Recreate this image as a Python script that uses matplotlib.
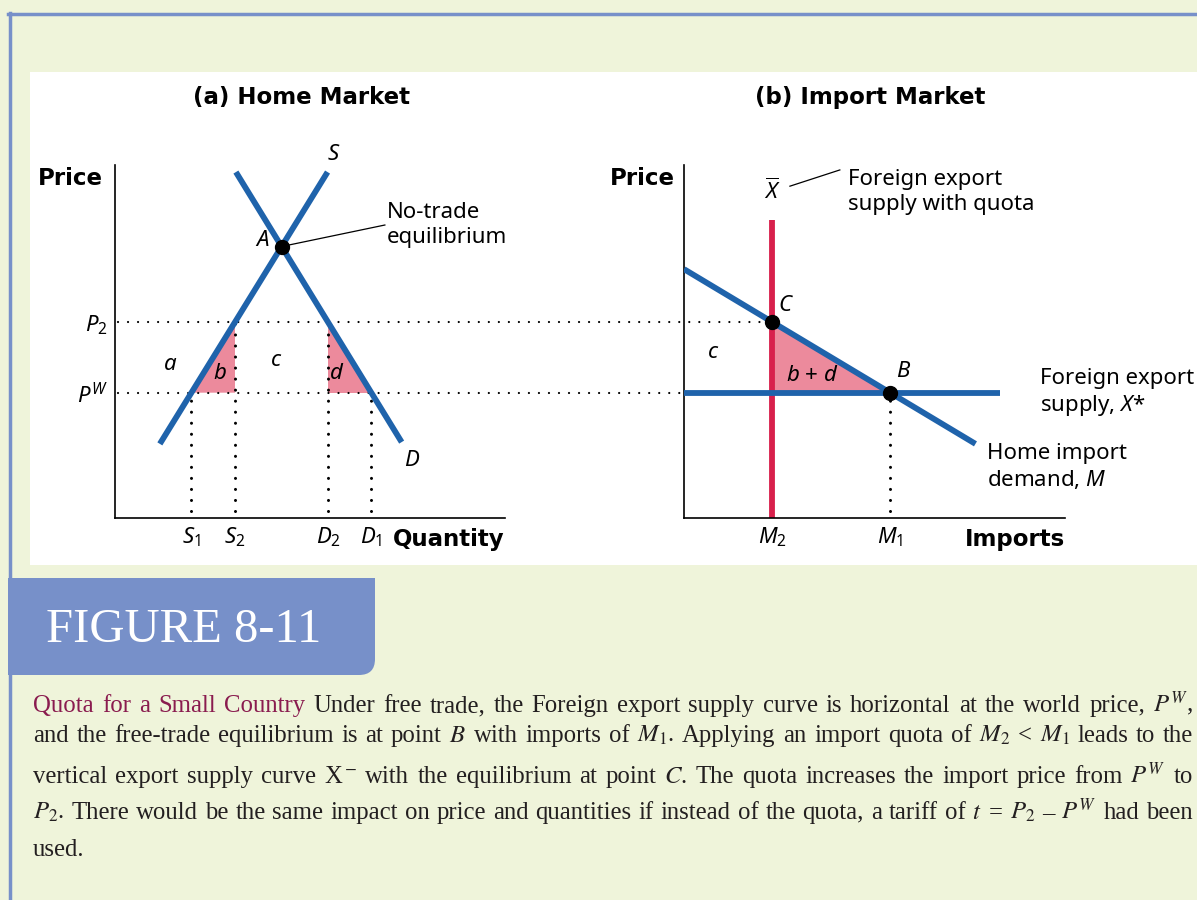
import numpy as np
import matplotlib
matplotlib.use('Agg')
import matplotlib.pyplot as plt
from matplotlib.patches import Rectangle, FancyBboxPatch

plt.rcParams['font.family'] = ['Noto Sans', 'DejaVu Sans']
plt.rcParams['mathtext.fontset'] = 'custom'
plt.rcParams['mathtext.rm'] = 'Noto Sans'
plt.rcParams['mathtext.it'] = 'Noto Sans:italic'
plt.rcParams['mathtext.bf'] = 'Noto Sans:bold'

# --- data (abstract price / quantity units) ---
supply_q = [1.15, 5.45]      # home supply S
supply_p = [2.1, 9.8]
demand_q = [3.1, 7.35]       # home demand D
demand_p = [9.8, 2.15]
p_world = 3.55               # P^W
p_quota = 5.55               # P_2
import_q = [0.0, 7.65]       # home import demand M
import_p = [7.05, 2.1]
export_supply_end = 8.3      # length of X* line
quota_top = 8.45             # top of X-bar line

caption_lines = [
    "Quota for a Small Country Under free trade, the Foreign export supply curve is horizontal at the world price, $P^W$,",
    "and the free-trade equilibrium is at point $B$ with imports of $M_1$. Applying an import quota of $M_2$ < $M_1$ leads to the",
    "vertical export supply curve X$^-$ with the equilibrium at point $C$. The quota increases the import price from $P^W$ to",
    "$P_2$. There would be the same impact on price and quantities if instead of the quota, a tariff of $t$ = $P_2$ – $P^W$ had been",
    "used.",
]
caption_y = [712, 742, 783, 819, 856]

# derived points
s1 = np.interp(p_world, supply_p, supply_q)
s2 = np.interp(p_quota, supply_p, supply_q)
d1 = np.interp(p_world, demand_p[::-1], demand_q[::-1])
d2 = np.interp(p_quota, demand_p[::-1], demand_q[::-1])
m1 = np.interp(p_world, import_p[::-1], import_q[::-1])
m2 = np.interp(p_quota, import_p[::-1], import_q[::-1])
cs = np.polyfit(supply_q, supply_p, 1)
cd = np.polyfit(demand_q, demand_p, 1)
a_q = (cd[1] - cs[1]) / (cs[0] - cd[0])
a_p = np.polyval(cs, a_q)

BLUE = '#1f63ab'
PINK = '#ec8a9c'
RED = '#d8204c'
BG = '#eff4da'
FRAME = '#7790c9'
MAROON = '#8a1c4f'
FS = 16
BOLD = dict(fontsize=16.5, family='DejaVu Sans', weight='bold')
DOT_H = (0, (0.01, 4.5))
DOT_V = (0, (0.01, 3.6))

W, H = 1197, 900
fig = plt.figure(figsize=(W / 100, H / 100), dpi=100, facecolor=BG)

# background layer in pixel coordinates
bg = fig.add_axes([0, 0, 1, 1], zorder=-1)
bg.set_xlim(0, W)
bg.set_ylim(H, 0)
bg.axis('off')
bg.add_patch(Rectangle((30, 72), W - 30, 493, facecolor='white', edgecolor='none'))
bg.plot([8, W], [14, 14], color=FRAME, lw=2.5)
bg.plot([9.5, 9.5], [13, H], color=FRAME, lw=2.5)
bg.add_patch(FancyBboxPatch((8, 578), 367, 97, boxstyle='round,pad=0,rounding_size=16',
                            facecolor=FRAME, edgecolor='none'))
bg.add_patch(Rectangle((8, 578), 367, 50, facecolor=FRAME, edgecolor='none'))
bg.add_patch(Rectangle((8, 578), 60, 97, facecolor=FRAME, edgecolor='none'))
bg.text(46, 630, 'FIGURE 8-11', color='white', fontsize=35, family='Liberation Serif',
        va='center', ha='left')

# panel (a) home market
ax1 = fig.add_axes([115 / W, 1 - 518 / H, 390 / W, 353 / H], facecolor='none')
# panel (b) import market
ax2 = fig.add_axes([684 / W, 1 - 518 / H, 381 / W, 353 / H], facecolor='none')
for ax in (ax1, ax2):
    ax.set_xlim(0, 10)
    ax.set_ylim(0, 10)
    ax.spines[['top', 'right']].set_visible(False)
    ax.spines[['left', 'bottom']].set_linewidth(1.2)
    ax.tick_params(length=0, labelsize=FS, pad=5)

ax1.set_xticks([s1, s2, d2, d1], ['$S_1$', '$S_2$', '$D_2$', '$D_1$'])
ax1.set_yticks([p_world, p_quota], ['$P^W$', '$P_2$'])
ax2.set_xticks([m2, m1], ['$M_2$', '$M_1$'])
ax2.set_yticks([])

ax1.fill([s1, s2, s2], [p_world, p_quota, p_world], color=PINK, lw=0, zorder=1)
ax1.fill([d2, d2, d1], [p_quota, p_world, p_world], color=PINK, lw=0, zorder=1)
ax1.plot(supply_q, supply_p, color=BLUE, lw=4.2, solid_capstyle='butt', zorder=3)
ax1.plot(demand_q, demand_p, color=BLUE, lw=4.2, solid_capstyle='butt', zorder=3)

# dotted guides running across into panel (b)
to_ax1 = ax1.transData.inverted()
x_c = to_ax1.transform(ax2.transData.transform((m2, p_quota)))[0]
x_b0 = to_ax1.transform(ax2.transData.transform((0, p_world)))[0]
ax1.plot([0.08, x_c], [p_quota, p_quota], color='black', lw=1.6, ls=DOT_H,
         dash_capstyle='round', clip_on=False, zorder=2)
ax1.plot([0.08, x_b0], [p_world, p_world], color='black', lw=1.6, ls=DOT_H,
         dash_capstyle='round', clip_on=False, zorder=2)
for q, p in [(s1, p_world), (s2, p_quota), (d2, p_quota), (d1, p_world)]:
    ax1.plot([q, q], [0.2, p], color='black', lw=2.2, ls=DOT_V, dash_capstyle='round', zorder=2)

ax1.plot(a_q, a_p, 'o', color='black', ms=10, zorder=5)
ax1.plot([a_q, 6.92], [a_p, 8.3], color='black', lw=0.9, zorder=4)
ax1.text(6.98, 8.3, 'No-trade\nequilibrium', fontsize=FS, va='center', linespacing=1.25)
ax1.text(3.95, 7.85, 'A', fontsize=FS, style='italic', ha='right', va='center')
ax1.text(5.59, 10.3, 'S', fontsize=FS, style='italic', ha='center', va='center')
ax1.text(7.6, 1.64, 'D', fontsize=FS, style='italic', ha='center', va='center')
ax1.text(1.41, 4.35, 'a', fontsize=FS, style='italic', ha='center', va='center')
ax1.text(2.69, 4.08, 'b', fontsize=FS, style='italic', ha='center', va='center')
ax1.text(4.13, 4.45, 'c', fontsize=FS, style='italic', ha='center', va='center')
ax1.text(5.67, 4.08, 'd', fontsize=FS, style='italic', ha='center', va='center')
ax1.text(-0.03, 0.963, 'Price', transform=ax1.transAxes, ha='right', va='center', **BOLD)
ax1.text(1.0, -0.06, 'Quantity', transform=ax1.transAxes, ha='right', va='center', **BOLD)
ax1.text(0.477, 1.19, '(a) Home Market', transform=ax1.transAxes, ha='center', va='center',
         **BOLD)

# panel (b)
ax2.fill([m2, m2, m1], [p_quota, p_world, p_world], color=PINK, lw=0, zorder=1)
ax2.plot([m2, m2], [0, quota_top], color=RED, lw=4.2, solid_capstyle='butt', zorder=2.5)
ax2.plot([0, export_supply_end], [p_world, p_world], color=BLUE, lw=4.2,
         solid_capstyle='butt', zorder=3)
ax2.plot(import_q, import_p, color=BLUE, lw=4.2, solid_capstyle='butt', zorder=3)
ax2.plot([m1, m1], [0.2, p_world], color='black', lw=2.2, ls=DOT_V, dash_capstyle='round', zorder=2)
ax2.plot([m2, m1], [p_quota, p_world], 'o', color='black', ms=10, zorder=5)
ax2.plot([2.78, 4.09], [9.4, 9.86], color='black', lw=0.9)

ax2.text(m2, 9.24, r'$\overline{X}$', fontsize=FS, ha='center', va='center')
ax2.text(4.3, 9.24, 'Foreign export\nsupply with quota', fontsize=FS, va='center', linespacing=1.25)
ax2.text(9.34, 3.54, 'Foreign export\nsupply, $X$*', fontsize=FS, va='center', linespacing=1.25,
         clip_on=False)
ax2.text(7.95, 1.44, 'Home import\ndemand, $M$', fontsize=FS, va='center', linespacing=1.25)
ax2.text(2.65, 6.03, 'C', fontsize=FS, style='italic', ha='center', va='center')
ax2.text(5.75, 4.14, 'B', fontsize=FS, style='italic', ha='center', va='center')
ax2.text(0.76, 4.7, 'c', fontsize=FS, style='italic', ha='center', va='center')
ax2.text(3.36, 4.05, '$b$ + $d$', fontsize=FS, ha='center', va='center')
ax2.text(-0.024, 0.963, 'Price', transform=ax2.transAxes, ha='right', va='center', **BOLD)
ax2.text(1.0, -0.06, 'Imports', transform=ax2.transAxes, ha='right', va='center', **BOLD)
ax2.text(0.488, 1.19, '(b) Import Market', transform=ax2.transAxes, ha='center', va='center',
         **BOLD)

# caption, justified between the margins
renderer = fig.canvas.get_renderer()
left, right = 33, 1193
for i, (line, y) in enumerate(zip(caption_lines, caption_y)):
    words = line.split(' ')
    objs = []
    for j, w in enumerate(words):
        col = MAROON if (i == 0 and j < 5) else '#231f20'
        objs.append(bg.text(0, y, w, color=col, fontsize=17.8, family='Liberation Serif',
                            math_fontfamily='stix', va='baseline', ha='left'))
    widths = [t.get_window_extent(renderer).width for t in objs]
    if i < len(caption_lines) - 1:
        gap = (right - left - sum(widths)) / (len(words) - 1)
    else:
        gap = 6
    x = left
    for t, wd in zip(objs, widths):
        t.set_x(x)
        x += wd + gap

fig.savefig('out.png', dpi=100, facecolor=BG)
